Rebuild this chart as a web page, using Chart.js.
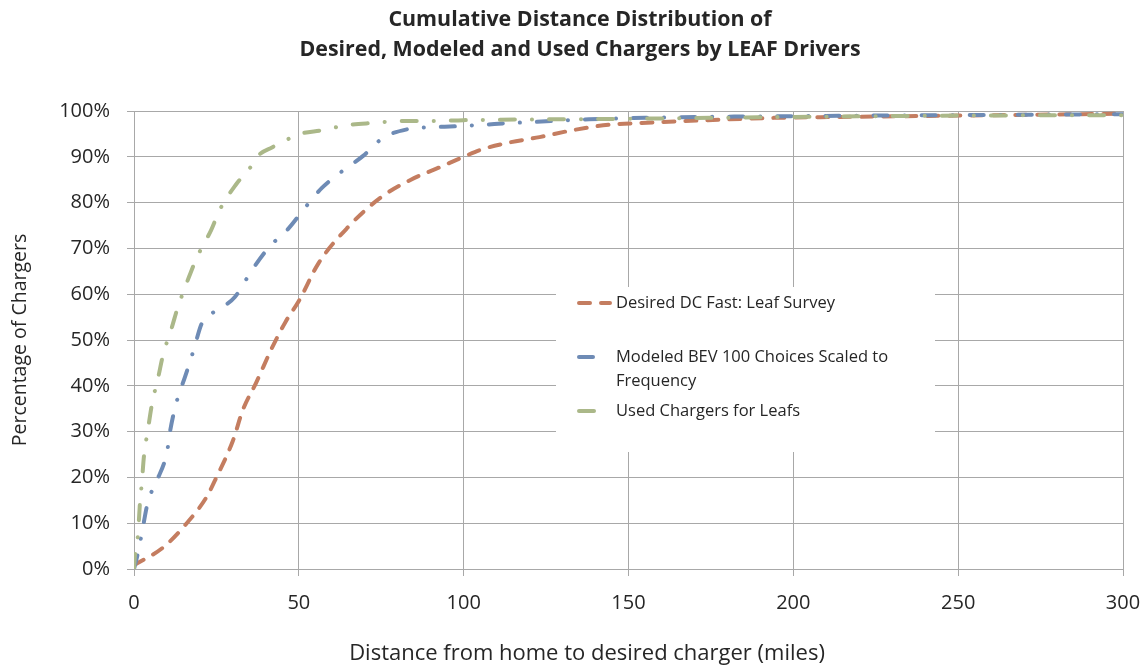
<!DOCTYPE html>
<html>
<head>
<meta charset="utf-8">
<script src="https://cdn.jsdelivr.net/npm/chart.js@4.4.1/dist/chart.umd.min.js"></script>
<style>
  html, body { margin: 0; padding: 0; background: #ffffff; }
  #wrap { width: 1145px; height: 666px; }
</style>
</head>
<body>
<div id="wrap"><canvas id="c" width="1145" height="666"></canvas></div>
<script>
// ---- Data ----
const titleLines = ["Cumulative Distance Distribution of", "Desired, Modeled and Used Chargers by LEAF Drivers"];
const xAxisTitle = "Distance from home to desired charger (miles)";
const yAxisTitle = "Percentage of Chargers";
const seriesNames = ["Desired DC Fast: Leaf Survey", "Modeled BEV 100 Choices Scaled to Frequency", "Used Chargers for Leafs"];

const desiredX = [0, 9, 16, 22, 25, 30, 33, 37, 42, 46, 50, 56, 65, 75, 84, 93, 100, 105, 113, 123, 133, 144, 154, 174, 194, 214, 250, 300];
const desiredY = [0.8, 4.8, 10, 15.7, 20, 28, 34.7, 40.6, 48.5, 54, 58.5, 66.8, 74.7, 81.2, 85, 87.8, 90, 91.5, 93, 94.3, 95.8, 97, 97.4, 98, 98.5, 98.7, 99, 99.4];

const modeledX = [0, 1.2, 2.4, 4.2, 7, 10, 11, 13, 15.5, 18, 20.6, 23, 26, 30.6, 36, 41, 46.7, 52, 57, 62.5, 69.5, 75.5, 82.8, 92, 99, 106, 115, 121, 138, 155, 171, 187, 204, 250, 300];
const modeledY = [0, 3.5, 7.9, 14.6, 19.4, 25.5, 30.3, 36.7, 42, 47.6, 53.7, 55.5, 56.8, 59.4, 65.5, 70.3, 74.2, 79, 83.2, 86.5, 90.2, 94.1, 96, 96.5, 96.7, 97, 97.4, 97.6, 98.2, 98.5, 98.7, 98.8, 98.9, 99.1, 99.3];

const usedX = [0, 0.3, 1.2, 1.8, 2.4, 3, 4.2, 5.5, 7.3, 8.8, 11.5, 13.3, 14.6, 16.7, 19, 23.4, 26, 31, 35.8, 37.3, 42, 48, 50.3, 57, 64.6, 72.8, 80.7, 89, 100, 150, 200, 250, 300];
const usedY = [0, 3, 7.4, 14.4, 19, 24.5, 30.3, 36.2, 41.7, 46.7, 52.8, 57.2, 59.8, 63.8, 67.9, 74, 78.4, 84, 88.2, 90, 92.1, 94.3, 95, 95.8, 96.9, 97.4, 97.8, 97.8, 98, 98.3, 98.7, 99, 99.1];

const xTicks = [0, 50, 100, 150, 200, 250, 300];
const yTicks = [0, 10, 20, 30, 40, 50, 60, 70, 80, 90, 100];

// ---- Styles ----
const colors = ["#C47D60", "#6E8BB5", "#ABB889"];
const dashes = [[11, 11], [14, 17, 0.1, 17], [15, 17, 0.1, 17]];
const textColor = "#262626";
const gridColor = "#A8A8A8";
const FONT = "'Open Sans', 'Noto Sans', 'DejaVu Sans', sans-serif";

const toPts = (xs, ys) => xs.map((x, i) => ({ x: x, y: ys[i] }));
const seriesData = [toPts(desiredX, desiredY), toPts(modeledX, modeledY), toPts(usedX, usedY)];

const legendPlugin = {
  id: 'boxLegend',
  beforeDatasetsDraw(chart) {
    const ctx = chart.ctx;
    ctx.save();
    ctx.fillStyle = '#ffffff';
    ctx.fillRect(556, 287, 379, 165);
    const rows = [
      { y: 303, lines: ["Desired DC Fast: Leaf Survey"] },
      { y: 357, lines: ["Modeled BEV 100 Choices Scaled to", "Frequency"] },
      { y: 411, lines: ["Used Chargers for Leafs"] }
    ];
    rows.forEach((r, i) => {
      ctx.strokeStyle = colors[i];
      ctx.lineWidth = 4;
      ctx.lineCap = 'round';
      ctx.setLineDash(dashes[i]);
      ctx.beginPath();
      ctx.moveTo(579, r.y);
      ctx.lineTo(610, r.y);
      ctx.stroke();
      ctx.setLineDash([]);
      ctx.fillStyle = textColor;
      ctx.font = "16.5px " + FONT;
      ctx.textBaseline = 'middle';
      ctx.textAlign = 'left';
      r.lines.forEach((t, k) => ctx.fillText(t, 616, r.y + k * 24));
    });
    ctx.restore();
  },
  afterDraw(chart) {
    const ctx = chart.ctx;
    ctx.save();
    ctx.fillStyle = textColor;
    ctx.textAlign = 'center';
    ctx.textBaseline = 'middle';
    ctx.font = "22px " + FONT;
    ctx.fillText(xAxisTitle, 587, 654);
    ctx.font = "bold 21.4px " + FONT;
    ctx.fillText(titleLines[0], 580, 20);
    ctx.fillText(titleLines[1], 580, 50);
    ctx.restore();
  }
};

const datasets = seriesNames.map((name, i) => ({
  label: name,
  data: seriesData[i],
  borderColor: colors[i],
  backgroundColor: colors[i],
  borderWidth: 4,
  borderDash: dashes[i],
  borderCapStyle: 'round',
  borderJoinStyle: 'round',
  pointRadius: 0,
  fill: false,
  cubicInterpolationMode: 'monotone',
  order: 3 - i
}));

new Chart(document.getElementById('c'), {
  type: 'line',
  data: { datasets: datasets },
  plugins: [legendPlugin],
  options: {
    responsive: false,
    animation: false,
    devicePixelRatio: 1,
    layout: { padding: { top: 111, right: 22, bottom: 0, left: 0 } },
    plugins: {
      legend: { display: false },
      tooltip: { enabled: false },
      title: { display: false }
    },
    scales: {
      x: {
        type: 'linear',
        min: 0, max: 300,
        afterBuildTicks: (s) => { s.ticks = xTicks.map(v => ({ value: v })); },
        afterFit: (s) => { s.height = 97; s.paddingLeft = 0; s.paddingRight = 0; },
        grid: { color: gridColor, lineWidth: 1, tickLength: 7, drawTicks: true },
        border: { color: gridColor, width: 1 },
        ticks: { color: textColor, font: { family: FONT, size: 20 }, padding: 15, maxRotation: 0 },
        title: { display: false }
      },
      y: {
        type: 'linear',
        min: 0, max: 100,
        afterBuildTicks: (s) => { s.ticks = yTicks.map(v => ({ value: v })); },
        afterFit: (s) => { s.width = 134; s.paddingTop = 0; s.paddingBottom = 0; },
        grid: { color: gridColor, lineWidth: 1, tickLength: 7, drawTicks: true },
        border: { color: gridColor, width: 1 },
        ticks: { color: textColor, font: { family: FONT, size: 20 }, padding: 17, callback: (v) => v + '%' },
        title: { display: true, text: yAxisTitle, color: textColor, font: { family: FONT, size: 19.5 }, padding: { top: 9, bottom: 0 } }
      }
    }
  }
});
</script>
</body>
</html>
